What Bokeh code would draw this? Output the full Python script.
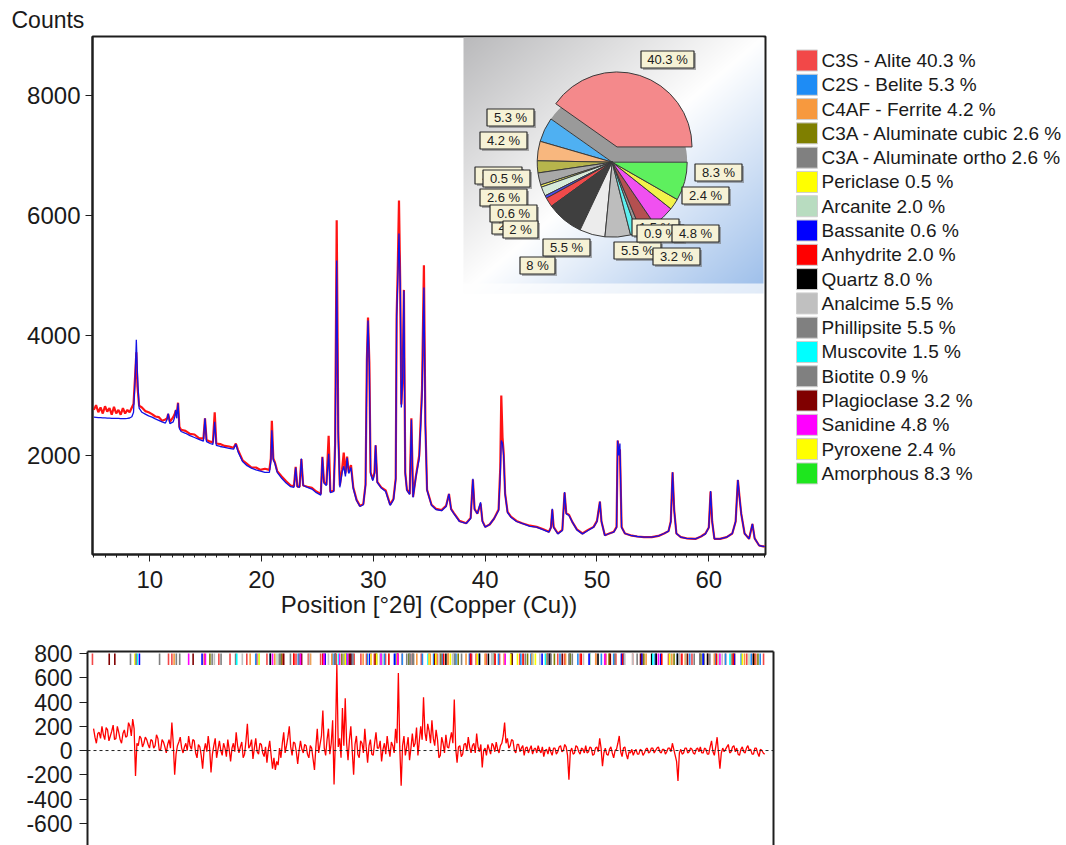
import numpy as np
from bokeh.plotting import figure
from bokeh.layouts import column, row
from bokeh.models import Range1d, LinearAxis, SingleIntervalTicker, FixedTicker, Span
from bokeh.embed import file_html
from bokeh.resources import INLINE
from bokeh.core.properties import value

FONT = "Liberation Sans"
TXT = "#1a1a1a"

# ---------------- data: diffraction pattern ----------------
two_theta = [
    5.0, 5.2, 5.4, 5.6, 5.8, 6.0, 6.2, 6.4, 6.6, 6.8,
    7.0, 7.2, 7.4, 7.6, 7.8, 8.0, 8.2, 8.4, 8.55, 8.7,
    8.8, 8.9, 9.05, 9.3, 9.6, 9.9, 10.2, 10.5, 10.8, 11.1,
    11.4, 11.55, 11.65, 11.8, 12.1, 12.25, 12.32, 12.42, 12.53, 12.65,
    12.8, 13.2, 13.6, 14.0, 14.4, 14.8, 14.94, 15.08, 15.4, 15.65,
    15.81, 15.95, 16.3, 16.7, 17.1, 17.5, 17.7, 17.9, 18.3, 18.7,
    19.1, 19.5, 19.9, 20.3, 20.7, 20.83, 20.92, 21.05, 21.2, 21.4,
    21.8, 22.2, 22.6, 22.9, 23.05, 23.2, 23.4, 23.56, 23.72, 24.1,
    24.5, 24.9, 25.3, 25.44, 25.58, 25.8, 26.0, 26.15, 26.45, 26.58,
    26.72, 26.86, 27.0, 27.2, 27.35, 27.5, 27.65, 27.8, 28.0, 28.2,
    28.5, 28.8, 29.1, 29.3, 29.42, 29.52, 29.64, 29.75, 29.95, 30.1,
    30.2, 30.35, 30.7, 31.1, 31.5, 31.8, 32.0, 32.08, 32.18, 32.29,
    32.4, 32.5, 32.62, 32.73, 32.85, 33.0, 33.25, 33.4, 33.55, 33.8,
    34.1, 34.35, 34.52, 34.65, 34.8, 35.2, 35.6, 36.1, 36.5, 36.76,
    36.95, 37.2, 37.7, 38.3, 38.7, 38.9, 39.05, 39.3, 39.59, 39.75,
    40.0, 40.4, 40.8, 41.2, 41.35, 41.44, 41.55, 41.65, 41.78, 42.0,
    42.3, 42.8, 43.3, 44.0, 44.6, 45.2, 45.7, 45.88, 46.0, 46.12,
    46.5, 46.9, 47.1, 47.25, 47.5, 47.8, 48.2, 48.7, 49.2, 49.7,
    50.0, 50.26, 50.4, 50.7, 51.1, 51.5, 51.75, 51.85, 51.95, 52.05,
    52.2, 52.5, 53.0, 53.6, 54.2, 54.9, 55.5, 56.0, 56.4, 56.6,
    56.76, 56.9, 57.1, 57.5, 58.0, 58.8, 59.3, 59.7, 60.0, 60.16,
    60.3, 60.5, 61.0, 61.6, 62.1, 62.4, 62.6, 62.75, 62.9, 63.2,
    63.6, 63.9, 64.1, 64.5, 65.0,
]
calc_counts = [
    2640, 2636, 2632, 2630, 2628, 2626, 2624, 2622, 2620, 2620,
    2618, 2618, 2616, 2616, 2615, 2618, 2625, 2645, 2720, 3300,
    3930, 3350, 2790, 2720, 2690, 2660, 2640, 2610, 2585, 2560,
    2540, 2600, 2700, 2530, 2560, 2650, 2760, 2620, 2870, 2450,
    2400, 2370, 2330, 2300, 2270, 2240, 2620, 2230, 2200, 2185,
    2560, 2170, 2150, 2135, 2120, 2105, 2190, 2060, 1900, 1830,
    1790, 1760, 1740, 1720, 1720, 1900, 2420, 1920, 1870, 1720,
    1620, 1540, 1480, 1470, 1800, 1480, 1470, 1950, 1500, 1470,
    1440, 1380, 1340, 1970, 1540, 1500, 2030, 1380, 1400, 2150,
    5250, 2300, 1470, 1720, 1820, 1650, 1960, 1700, 1800, 1450,
    1250, 1150, 1180, 1500, 3580, 4250, 3500, 1700, 1580, 1700,
    2170, 1550, 1460, 1400, 1170, 1260, 1600, 4300, 4900, 5700,
    4870, 2800, 3300, 4750, 1700, 1420, 1350, 2600, 1300, 1640,
    1950, 3000, 4800, 2500, 1420, 1170, 1100, 1080, 1150, 1360,
    1100, 1030, 900, 867, 950, 1610, 1100, 1030, 1220, 900,
    806, 850, 950, 1083, 1700, 2250, 2200, 2000, 1360, 1050,
    972, 900, 867, 820, 806, 760, 722, 800, 1111, 800,
    694, 750, 1389, 1028, 1000, 889, 760, 694, 750, 806,
    900, 1233, 900, 667, 700, 722, 800, 2250, 2000, 2200,
    800, 700, 667, 650, 640, 639, 660, 700, 740, 900,
    1722, 1100, 700, 639, 620, 611, 650, 694, 800, 1406,
    900, 611, 611, 640, 700, 900, 1594, 1300, 1028, 700,
    611, 861, 620, 500, 480,
]
obs_counts = [
    2760, 2840, 2720, 2800, 2700, 2820, 2730, 2790, 2680, 2810,
    2700, 2760, 2680, 2790, 2700, 2760, 2720, 2800, 2860, 3350,
    3720, 3150, 2830, 2800, 2740, 2720, 2690, 2650, 2640, 2580,
    2600, 2620, 2690, 2560, 2640, 2700, 2750, 2700, 2880, 2480,
    2430, 2410, 2360, 2350, 2290, 2280, 2620, 2260, 2230, 2220,
    2720, 2200, 2190, 2160, 2150, 2130, 2200, 2090, 1920, 1860,
    1800, 1800, 1760, 1780, 1760, 1950, 2580, 1950, 1880, 1740,
    1650, 1570, 1500, 1490, 1810, 1480, 1480, 1940, 1500, 1480,
    1460, 1400, 1360, 1980, 1560, 1510, 2330, 1400, 1410, 2200,
    5920, 2400, 1500, 1760, 2050, 1700, 1980, 1720, 1840, 1470,
    1260, 1160, 1190, 1520, 3600, 4300, 3550, 1720, 1600, 1720,
    2170, 1560, 1470, 1420, 1180, 1280, 1620, 4320, 5100, 6250,
    4900, 2850, 3300, 4760, 1720, 1430, 1360, 2620, 1310, 1650,
    2000, 3100, 5170, 2550, 1430, 1180, 1110, 1090, 1160, 1360,
    1110, 1040, 910, 870, 960, 1600, 1110, 1030, 1200, 910,
    810, 850, 950, 1100, 1800, 3000, 2300, 2050, 1370, 1060,
    980, 910, 870, 830, 810, 770, 730, 800, 1100, 810,
    700, 760, 1380, 1040, 1010, 890, 770, 700, 760, 810,
    910, 1230, 900, 670, 700, 730, 810, 2250, 2080, 2100,
    810, 700, 670, 650, 640, 640, 660, 700, 740, 900,
    1720, 1100, 700, 640, 620, 610, 650, 700, 800, 1400,
    900, 610, 610, 640, 700, 900, 1590, 1300, 1030, 700,
    610, 860, 620, 500, 480,
]
assert len(two_theta) == len(calc_counts) == len(obs_counts)

# ---------------- data: difference curve (obs - calc), 0.125 deg steps ----------------
diff_start = 5.0
diff_step = 0.125
diff_counts = [
    180, 110, 60, 140, 150, 100, 200, 130, 90, 190, 170, 80, 120, 160, 210, 90,
    100, 200, 150, 90, 60, 140, 170, 110, 120, 230, 200, 120, 260, 180, -210, 60,
    40, 120, 100, 30, 60, 110, 90, 50, 20, 90, 80, 20, 40, 130, 100, 0,
    10, 90, 70, 30, -20, 50, 90, 20, 230, 60, -200, -30, 40, 70, 110, 20,
    -20, 30, 60, 0, 120, 40, 10, 90, 80, -20, -60, 50, 30, -40, -150, 0,
    60, -10, 120, 20, -180, -30, 40, 100, -60, 10, 80, 0, -40, 60, 20, -50,
    90, 10, -90, 20, 60, -10, 150, 40, -20, 30, 70, -60, -30, 80, 220, 20,
    40, 90, -70, 20, 100, -10, -30, 60, 50, -20, -50, 30, -100, 10, 80, -40,
    -150, -60, -160, -90, -120, 20, -60, 60, 150, -20, 40, 110, 200, 30, -40, 70,
    60, -10, -110, 0, 80, 10, -20, 50, 40, -30, -60, 40, 20, -70, -160, 30,
    180, -20, 50, 120, 330, 20, -40, 90, 180, -30, 60, 250, -280, 100, 710, 30,
    100, -60, 350, 40, 430, 60, -80, 90, 200, 0, -200, 50, 120, -30, -60, 80,
    60, -20, 180, 30, -100, 40, 90, -30, -40, 60, 150, 20, 20, 80, -90, 10,
    60, -30, 120, 20, -50, 70, 40, -20, 180, 60, 640, 30, -290, 40, 120, -40,
    30, 110, -80, 20, 140, 30, 60, 190, -40, 80, 200, 90, 440, 150, 80, 220,
    160, 60, 250, 100, 40, 170, 90, -60, -40, 110, 60, -20, 130, 30, 20, 90,
    150, 60, 420, 20, -100, 30, 40, -50, -30, 50, 60, 0, 110, 30, -20, 40,
    60, -20, 140, 30, -10, 50, -140, 0, 20, -40, 50, 10, -30, 60, 40, -10,
    70, 10, -20, 40, 60, 120, 230, 60, 100, 20, 40, 90, 80, 0, -20, 50,
    50, -10, 20, 40, -40, 20, 30, -20, 10, 40, -30, 10, 20, -20, 40, 0,
    -20, 30, -50, 0, 10, -30, 30, -10, -40, 20, 20, -30, -10, 30, 40, -10,
    0, 50, 30, -40, -240, -10, 20, -30, -20, 40, 30, -10, -30, 20, 10, -20,
    40, -20, -10, 30, 20, -40, -30, 20, 30, -10, 100, 20, -130, -20, 20, -30,
    -40, 10, 30, -20, -60, 0, 10, 60, 120, -10, -50, 20, 30, -30, -70, -10,
    -20, 10, -40, -10, 10, -30, -30, 10, 0, -40, -20, 10, 20, -20, -10, 20,
    20, -20, 0, 20, 30, -10, -20, 10, 10, -30, -10, 20, 20, -10, 60, 10,
    -40, -90, -250, -20, 10, -30, -20, 20, 20, -20, -10, 20, 10, -20, -30, 10,
    20, -10, 30, -20, -20, 20, 10, -30, -30, 30, 80, -10, -40, 30, 110, -20,
    -150, -20, 20, -10, 10, 30, 50, -20, -10, 30, 40, -10, 20, -30, -40, 10,
    30, -10, -20, 20, 40, 0, 10, -30, -30, 20, 20, -20, -50, 10, 0, -20,
    -30,
]

# ---------------- data: phases ----------------
phases = ["C3S - Alite", "C2S - Belite", "C4AF - Ferrite", "C3A - Aluminate cubic",
          "C3A - Aluminate ortho", "Periclase", "Arcanite", "Bassanite", "Anhydrite",
          "Quartz", "Analcime", "Phillipsite", "Muscovite", "Biotite", "Plagioclase",
          "Sanidine", "Pyroxene", "Amorphous"]
phase_pct = [40.3, 5.3, 4.2, 2.6, 2.6, 0.5, 2.0, 0.6, 2.0, 8.0, 5.5, 5.5, 1.5, 0.9,
             3.2, 4.8, 2.4, 8.3]
phase_colors = ["#f24848", "#1e8cf5", "#f7993e", "#7f7f00", "#808080", "#ffff00",
                "#b8dcc0", "#0000ff", "#ff0000", "#000000", "#c0c0c0", "#808080",
                "#00ffff", "#808080", "#800000", "#ff00ff", "#ffff00", "#1ee61e"]
pie_colors = ["#f4898b", "#4fb0f2", "#f8b77e", "#b7b54c", "#a8a8a8", "#f2f25a",
              "#d6ead9", "#4a4af0", "#f04a4a", "#3f3f3f", "#ececec", "#bdbdbd",
              "#5ef0f0", "#969696", "#b45050", "#f050f0", "#f2f24a", "#5ef05e"]

# reference reflection positions (deg 2theta) per phase
ref_positions = [
    [4.9, 11.7, 12.0, 14.9, 16.2, 17.2, 18.7, 19.6, 20.5, 21.9, 22.9, 23.1, 24.2, 25.3, 25.7,
     26.7, 27.6, 28.3, 28.9, 29.4, 30.1, 31.1, 32.2, 32.6, 33.5, 34.3, 35.7, 36.7, 37.2,
     38.8, 39.2, 40.1, 41.3, 42.3, 43.1, 44.2, 45.8, 46.5, 47.1, 47.6, 48.5, 49.9, 50.8,
     51.7, 52.4, 53.2, 54.1, 55.3, 56.4, 57.4, 58.5, 59.2, 59.9, 60.6, 61.5, 62.3, 63.4,
     64.2, 64.9],
    [19.5, 20.8, 23.3, 25.5, 26.4, 27.6, 28.1, 29.5, 30.7, 31.0, 32.0, 32.1, 32.6, 33.2,
     34.4, 35.4, 36.2, 37.4, 38.6, 39.5, 40.6, 41.2, 42.4, 43.2, 44.1, 45.7, 46.7, 47.6,
     48.3, 49.4, 50.4, 51.5, 52.4, 54.0, 55.2, 56.5, 57.2, 58.3, 59.5, 60.6, 61.5, 62.9,
     63.8, 64.6],
    [12.2, 19.0, 21.2, 24.4, 26.3, 29.1, 32.1, 33.6, 33.9, 35.1, 36.7, 38.3, 40.0, 41.7,
     44.2, 45.5, 47.2, 49.9, 51.1, 54.4, 56.7, 57.9, 60.5, 62.0, 63.2, 64.1],
    [15.4, 21.8, 23.5, 27.2, 30.3, 33.2, 36.0, 37.6, 40.8, 43.8, 46.2, 47.6, 51.1, 54.2,
     56.9, 59.3, 62.2, 64.4],
    [8.3, 15.6, 21.6, 23.4, 27.4, 33.0, 33.5, 36.1, 40.8, 43.6, 47.5, 47.8, 53.6, 59.2,
     59.6, 62.1],
    [8.7, 36.9, 42.9, 62.3],
    [21.4, 29.8, 30.8, 31.4, 37.2, 40.7, 43.4, 44.3, 49.4, 52.2, 58.0, 60.9, 63.6],
    [9.1, 14.7, 25.7, 29.7, 31.9, 38.7, 42.3, 45.1, 49.3, 52.2, 54.0, 55.7, 59.5, 62.3],
    [22.9, 25.5, 31.4, 32.2, 36.3, 38.7, 40.9, 43.4, 45.6, 48.6, 52.3, 55.8, 57.6, 60.7,
     62.2, 64.0],
    [20.8, 26.6, 36.5, 39.5, 40.3, 42.4, 45.8, 50.1, 54.9, 55.3, 57.2, 59.9, 64.0],
    [15.8, 18.3, 24.3, 26.0, 30.6, 33.3, 35.9, 37.1, 40.6, 44.9, 48.8, 52.5, 53.2, 57.4,
     61.2],
    [10.9, 12.4, 12.7, 16.4, 17.7, 21.7, 22.6, 27.8, 28.2, 33.3, 37.9, 45.9, 51.6, 58.7],
    [8.9, 17.8, 19.8, 26.9, 34.9, 45.4, 55.0, 61.9],
    [8.8, 26.6, 33.6, 37.3, 45.6, 60.1],
    [6.4, 6.9, 13.9, 22.0, 23.6, 27.9, 28.0, 30.2, 35.5, 42.4, 46.9, 51.2, 53.9, 58.1],
    [13.5, 15.0, 21.0, 23.5, 25.6, 27.0, 27.7, 29.8, 30.7, 32.2, 35.0, 41.8, 50.7, 55.5,
     61.0],
    [19.8, 27.5, 29.8, 30.3, 35.0, 35.6, 39.3, 42.3, 44.5, 56.5, 63.0],
    [],
]

# ---------------- layout constants (page pixels) ----------------
MAIN_W, TOP_H = 767, 640
F_LEFT, F_RIGHT, F_TOP, F_BOTTOM = 92, 765, 36, 554
FW, FH = F_RIGHT - F_LEFT, F_BOTTOM - F_TOP


def lx(X):
    return X - F_LEFT


def ly(Y):
    return F_BOTTOM - Y


# ---------------- main pattern figure ----------------
p = figure(width=MAIN_W, height=TOP_H, x_range=Range1d(4.88, 65.07), y_range=Range1d(350, 8983),
           output_backend="svg", toolbar_location=None,
           min_border_left=F_LEFT, min_border_right=MAIN_W - F_RIGHT,
           min_border_top=F_TOP, min_border_bottom=TOP_H - F_BOTTOM)
p.xgrid.visible = False
p.ygrid.visible = False
p.outline_line_color = "#1e1e1e"
p.outline_line_width = 2
p.background_fill_color = "white"
p.border_fill_color = "white"

p.title.text = "Counts"
p.title.align = "left"
p.title.offset = -81
p.title.text_font = FONT
p.title.text_font_size = "23px"
p.title.text_font_style = "normal"
p.title.text_color = TXT
p.title.standoff = 8

xa = p.xaxis[0]
xa.ticker = SingleIntervalTicker(interval=10, num_minor_ticks=10)
xa.axis_label = "Position [°2θ] (Copper (Cu))"
xa.axis_label_text_font = FONT
xa.axis_label_text_font_size = "24px"
xa.axis_label_text_font_style = "normal"
xa.axis_label_text_color = TXT
xa.axis_label_standoff = 0
xa.major_label_text_font = FONT
xa.major_label_text_font_size = "24px"
xa.major_label_text_color = TXT
xa.major_label_standoff = 9
xa.major_tick_in = 0
xa.major_tick_out = 7
xa.minor_tick_in = 0
xa.minor_tick_out = 3
xa.axis_line_color = "#1e1e1e"
xa.axis_line_width = 2
xa.major_tick_line_color = "#1e1e1e"
xa.minor_tick_line_color = "#1e1e1e"

ya = p.yaxis[0]
ya.ticker = FixedTicker(ticks=[2000, 4000, 6000, 8000])
ya.major_label_text_font = FONT
ya.major_label_text_font_size = "24px"
ya.major_label_text_color = TXT
ya.major_label_standoff = 5
ya.major_tick_in = 0
ya.major_tick_out = 7
ya.minor_tick_line_color = None
ya.axis_line_color = "#1e1e1e"
ya.axis_line_width = 2
ya.major_tick_line_color = "#1e1e1e"

p.line(two_theta, obs_counts, line_color="#ff1414", line_width=2.2)
p.line(two_theta, calc_counts, line_color="#1212e6", line_width=1.3)

# ---------------- inset: quantification pie ----------------
p.extra_x_ranges = {"ix": Range1d(0, FW)}
p.extra_y_ranges = {"iy": Range1d(0, FH)}
IR = dict(x_range_name="ix", y_range_name="iy")

BOX_L, BOX_R, BOX_T, BOX_B = 463, 763, 37, 293
GW, GH = BOX_R - BOX_L, BOX_B - BOX_T
u = np.linspace(0, 1, GW)[None, :]
vtop = np.linspace(1, 0, GH)[:, None]
t = np.clip((u + vtop) / 2.0, 0, 1)[..., None]
gray = np.array([186, 186, 188], dtype=float)
white = np.array([255, 255, 255], dtype=float)
blue = np.array([156, 190, 234], dtype=float)
col = np.where(t < 0.5, gray + (white - gray) * (t / 0.5), white + (blue - white) * ((t - 0.5) / 0.5))
strip = (np.arange(GH) < 10)[:, None, None]
col = np.where(strip, col + (white - col) * 0.7, col)
img = np.empty((GH, GW), dtype=np.uint32)
view = img.view(dtype=np.uint8).reshape((GH, GW, 4))
view[..., :3] = np.clip(col, 0, 255).astype(np.uint8)
view[..., 3] = 255
p.image_rgba(image=[img], x=lx(BOX_L), y=ly(BOX_B), dw=GW, dh=GH, **IR)

total = float(sum(phase_pct))
frac = np.array(phase_pct) / total
ends = np.cumsum(frac) * 2 * np.pi
starts = ends - frac * 2 * np.pi
mids = (starts + ends) / 2
PIE_CX, PIE_CY, PIE_R = lx(611.7), ly(161.7), 75
explode = np.array([16] + [0] * (len(phases) - 1), dtype=float)
wx = PIE_CX + explode * np.cos(mids)
wy = PIE_CY + explode * np.sin(mids)

p.wedge(x=PIE_CX, y=PIE_CY, radius=PIE_R, radius_units="screen",
        start_angle=starts[0], end_angle=ends[0], fill_color="#9a9a9a", line_color=None, **IR)
p.wedge(x=wx, y=wy, radius=PIE_R, radius_units="screen", start_angle=starts, end_angle=ends,
        fill_color=pie_colors, line_color="#3a3a3a", line_width=1, **IR)

# label box centres (page px), one per phase
pie_label_xy = [(667, 59), (510, 117), (503, 140), (498, 175), (503, 197), (506, 178),
                (509, 225), (513, 213), (520, 229), (537, 265), (566, 247), (637, 250),
                (655, 227), (660, 233), (676, 256), (695, 233), (705, 195), (718, 172)]
for pct, (X, Y) in zip(phase_pct, pie_label_xy):
    lab = f"{pct:g} %"
    bw = 6 * len(lab) + 17
    bx, by = lx(X), ly(Y)
    p.rect(x=[bx + 2], y=[by - 2], width=bw, height=17, fill_color="#6e6e6e",
           fill_alpha=0.55, line_color=None, **IR)
    p.rect(x=[bx], y=[by], width=bw, height=17, fill_color="#f6f2d6",
           line_color="#2a2a2a", line_width=1.2, **IR)
    p.text(x=[bx], y=[by], text=[lab], text_font=value(FONT), text_font_size="13px",
           text_align="center", text_baseline="middle", text_color="#202020", **IR)

# ---------------- legend figure (frame aligned with main frame by the row) ----------------
LEG_W = 1066 - MAIN_W
ROW0, PITCH = 60.0, 24.29
lg = figure(width=LEG_W, height=TOP_H, x_range=Range1d(0, LEG_W),
            y_range=Range1d((F_BOTTOM - ROW0) / PITCH, -(ROW0 - F_TOP) / PITCH),
            output_backend="svg", toolbar_location=None, min_border=0,
            x_axis_location=None, y_axis_location=None)
lg.outline_line_color = None
lg.xgrid.visible = False
lg.ygrid.visible = False
rows = list(range(len(phases)))
leg_labels = [f"{n} {v:.1f} %" for n, v in zip(phases, phase_pct)]
lg.rect(x=806.5 - MAIN_W, y=rows, width=21, height=21, width_units="screen",
        height_units="screen", fill_color=phase_colors, line_color="#cfcfcf", line_width=1)
lg.text(x=821 - MAIN_W, y=rows, text=leg_labels, text_font=value(FONT),
        text_font_size="19px", text_baseline="middle", text_align="left", text_color=TXT)

# ---------------- difference figure ----------------
r = figure(width=776, height=205, x_range=Range1d(4.457, 65.79), y_range=Range1d(-783, 816.5),
           output_backend="svg", toolbar_location=None, x_axis_location=None,
           min_border_left=87, min_border_right=3, min_border_top=11, min_border_bottom=0)
r.outline_line_color = None
r.xgrid.visible = False
r.ygrid.visible = False
ry = r.yaxis[0]
diff_ticks = [-600, -400, -200, 0, 200, 400, 600, 800]
ry.ticker = FixedTicker(ticks=diff_ticks)
ry.major_label_overrides = {v: str(v) for v in diff_ticks}
ry.major_label_text_font = FONT
ry.major_label_text_font_size = "23px"
ry.major_label_text_color = TXT
ry.major_label_standoff = 7
ry.major_tick_in = 0
ry.major_tick_out = 8
ry.minor_tick_line_color = None
ry.axis_line_color = "#1e1e1e"
ry.axis_line_width = 2
ry.major_tick_line_color = "#1e1e1e"
for loc in ("above", "right"):
    ax = LinearAxis(ticker=FixedTicker(ticks=[]), axis_line_color="#1e1e1e", axis_line_width=2,
                    major_tick_line_color=None, minor_tick_line_color=None,
                    major_label_standoff=0, major_label_text_font_size="0px")
    r.add_layout(ax, loc)

r.add_layout(Span(location=0, dimension="width", line_color="#222222", line_width=1,
                  line_dash="3 3"))
tick_x, tick_c = [], []
for c, plist in zip(phase_colors, ref_positions):
    for pos in plist:
        tick_x.append(pos)
        tick_c.append(c)
r.segment(x0=tick_x, y0=705, x1=tick_x, y1=800, line_color=tick_c, line_width=1.6)
diff_x = diff_start + diff_step * np.arange(len(diff_counts))
r.line(diff_x, diff_counts, line_color="#ff0000", line_width=1.3)

layout = column(row(p, lg), r)
open("out.html", "w").write(file_html(layout, INLINE, "XRD quantification"))
